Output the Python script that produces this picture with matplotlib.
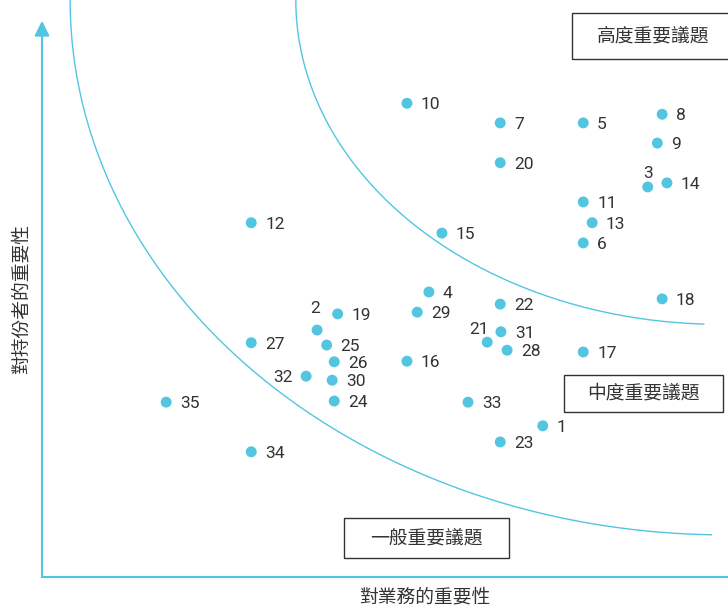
import numpy as np
import matplotlib
matplotlib.use("Agg")
import matplotlib.pyplot as plt
from matplotlib.patches import Rectangle

plt.rcParams['font.family'] = ['Noto Sans CJK TC', 'DejaVu Sans']

# issue id, importance to business (x), importance to stakeholders (y), 0-10 scale
issue_ids = list(range(1, 36))
business = [7.30, 4.01, 8.83, 5.64, 7.89, 7.89, 6.68, 9.04, 8.97, 5.32,
            7.89, 3.05, 8.02, 9.11, 5.83, 5.32, 7.89, 9.04, 4.31, 6.68,
            6.49, 6.68, 6.68, 4.26, 4.15, 4.26, 3.05, 6.78, 5.47, 4.23,
            6.69, 3.85, 6.21, 3.05, 1.81]
stakeholder = [2.62, 4.28, 6.76, 4.94, 7.87, 5.79, 7.87, 8.02, 7.52, 8.21,
               6.50, 6.14, 6.14, 6.83, 5.96, 3.74, 3.90, 4.82, 4.56, 7.18,
               4.07, 4.73, 2.34, 3.05, 4.02, 3.73, 4.06, 3.93, 4.59, 3.41,
               4.25, 3.48, 3.03, 2.17, 3.03]

x_label = "對業務的重要性"
y_label = "對持份者的重要性"
zone_labels = ["高度重要議題", "中度重要議題", "一般重要議題"]

CYAN = "#52c6e1"
TEXT = "#333333"

# labels not placed to the right of their dot: id -> (dx, dy, ha) in points
special_offsets = {3: (0, 10, "center"), 2: (-1.5, 15.5, "center"),
                   21: (-6, 9, "center"), 32: (-9.5, -1, "right")}

fig = plt.figure(figsize=(7.28, 6.09), dpi=100)
fig.patch.set_facecolor("white")
ax = fig.add_axes([42 / 728, 32 / 609, 686 / 728, 577 / 609])
ax.set_xlim(0, 10)
ax.set_ylim(0, 10)
ax.set_facecolor("none")
for side in ["top", "right", "left"]:
    ax.spines[side].set_visible(False)
ax.spines["bottom"].set_color(CYAN)
ax.spines["bottom"].set_linewidth(1.5)
ax.set_xticks([])
ax.set_yticks([])

# y axis with arrow head
ax.annotate("", xy=(0, 9.64), xytext=(0, 0), xycoords="data",
            arrowprops=dict(arrowstyle="-|>,head_length=0.9,head_width=0.45",
                            color=CYAN, lw=1.5, shrinkA=0, shrinkB=0),
            annotation_clip=False)

# zone boundaries (quarter ellipses centred near the top-right corner)
t = np.linspace(0, np.arccos(14 / 655), 300)
ax.plot(9.96 - 9.55 * np.cos(t), 10 - 9.27 * np.sin(t), color=CYAN, lw=1, clip_on=False)
t = np.linspace(0, np.arccos(16 / 424), 300)
ax.plot(9.88 - 6.18 * np.cos(t), 10 - 5.62 * np.sin(t), color=CYAN, lw=1, clip_on=False)

ax.scatter(business, stakeholder, s=62, color=CYAN, edgecolors="none", zorder=3)

for i, bx, sy in zip(issue_ids, business, stakeholder):
    dx, dy, ha = special_offsets.get(i, (10, -1, "left"))
    ax.annotate(str(i), (bx, sy), xytext=(dx, dy), textcoords="offset points",
                ha=ha, va="center", fontsize=12.5, color=TEXT,
                family=["Roboto", "DejaVu Sans"])

# zone label boxes
boxes = [(7.73, 8.98, 2.6, 0.79), (7.61, 2.86, 2.32, 0.64), (4.40, 0.33, 2.41, 0.69)]
for (bx0, by0, bw, bh), txt in zip(boxes, zone_labels):
    ax.add_patch(Rectangle((bx0, by0), bw, bh, fill=False, ec=TEXT, lw=1, clip_on=False))
text_pos = [(8.91, 9.38), (8.76, 3.19), (5.60, 0.68)]
for (tx, ty), txt in zip(text_pos, zone_labels):
    ax.text(tx, ty, txt, ha="center", va="center", fontsize=13.5, color=TEXT)

fig.text(425 / 728, 1 - 597 / 609, x_label, ha="center", va="center", fontsize=13.5, color=TEXT)
fig.text(21 / 728, 1 - 299 / 609, y_label, ha="center", va="center", rotation=90,
         fontsize=13.5, color=TEXT)

fig.savefig("out.png", dpi=100)
